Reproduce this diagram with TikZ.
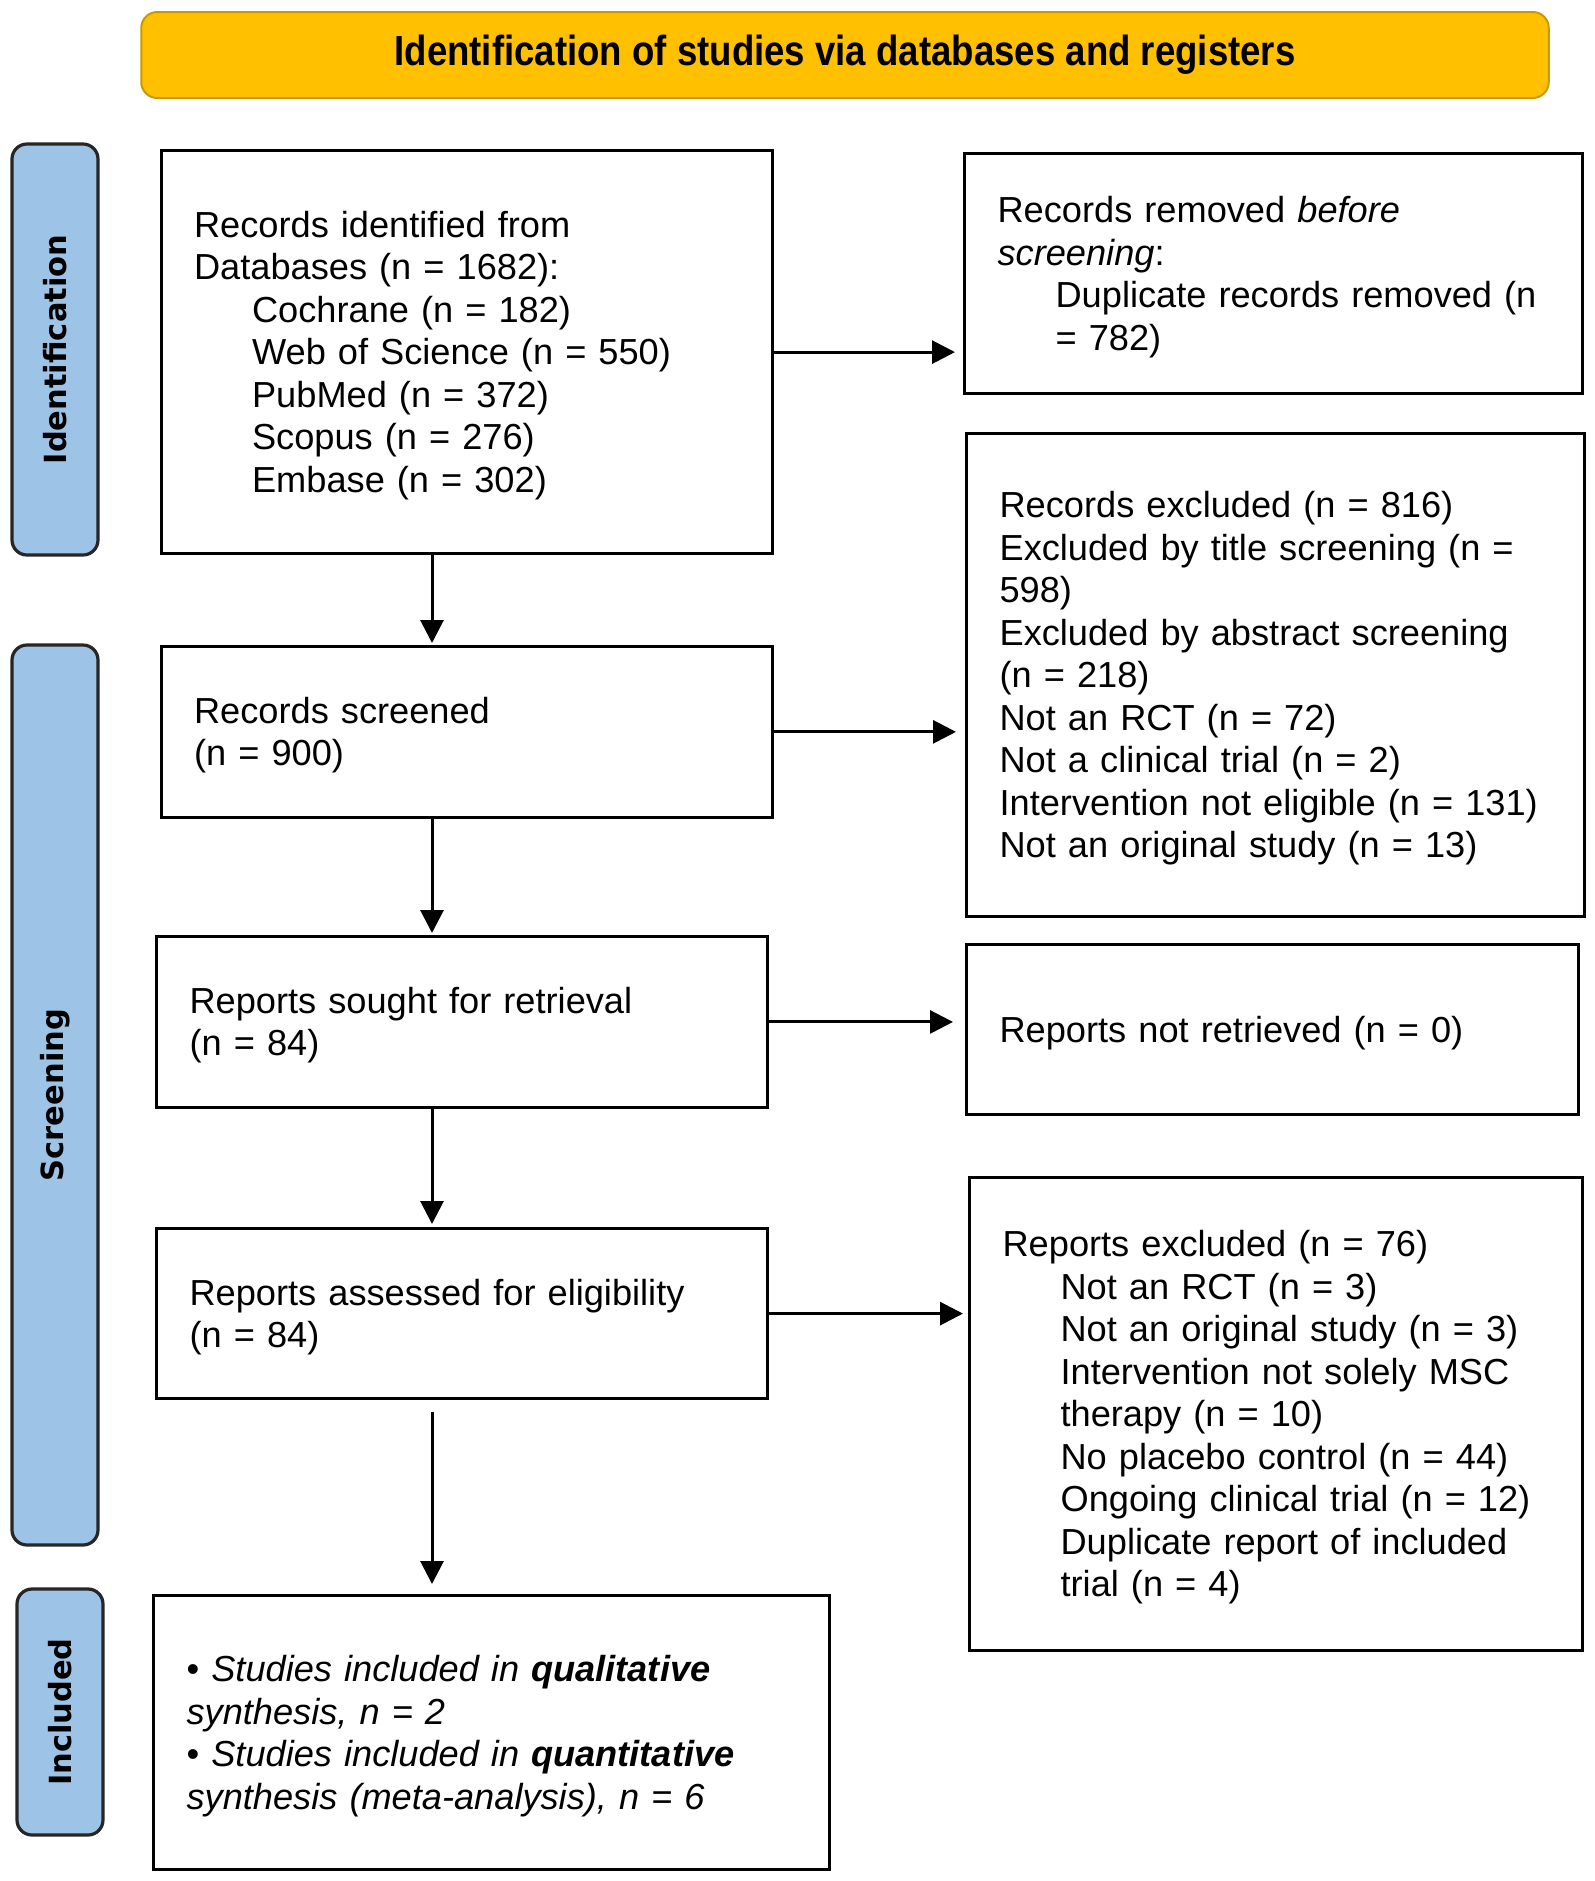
\documentclass[tikz,border=0pt]{standalone}
\usepackage{fontspec}
\setmainfont{Liberation Sans}
\newfontfamily\labelfont{DejaVu Sans}
\usetikzlibrary{arrows.meta}
\definecolor{gold}{HTML}{FFC000}
\definecolor{goldborder}{HTML}{C99A00}
\definecolor{sideblue}{HTML}{9DC3E6}
\begin{document}
\begin{tikzpicture}[x=0.5pt,y=-0.5pt,
  box/.style={draw=black, line width=1.6pt, fill=white, align=left, inner xsep=16.5pt, inner ysep=0pt, anchor=north west, font=\fontsize{18.1pt}{21.25pt}\selectfont, execute at begin node={\rule{0pt}{16.5pt}}},
  side/.style={draw=black!85, line width=1.6pt, fill=sideblue, rounded corners=7.5pt, minimum height=43pt, inner sep=0pt, rotate=90, font=\labelfont\bfseries\fontsize{15.25pt}{18pt}\selectfont},
  banner/.style={draw=goldborder, line width=1pt, fill=gold, rounded corners=8pt, minimum width=703.75pt, minimum height=43pt, font=\bfseries\fontsize{18.3pt}{21pt}\selectfont},
  arr/.style={line width=1.5pt, -{Triangle[length=11.5pt,width=11.5pt]}}]
\useasboundingbox (0,0) rectangle (1595,1881);

% banner and phase labels
\node[banner] (title) at (845,55) {\raisebox{-2pt}{\scalebox{1}[1.15]{Identification of studies via databases and registers}}};
\node[side, minimum width=205.5pt] (lid) at (55,349.5) {Identification};
\node[side, minimum width=450pt] (lsc) at (55,1095) {Screening};
\node[side, minimum width=123pt] (lin) at (60,1712) {Included};

% boxes
\node[box, minimum width=305.75pt, text width=272.75pt, minimum height=201.5pt] (b1) at (159.5,149)
{Records identified from\\ Databases (n = 1682):\\
\hspace*{29pt}Cochrane (n = 182)\\
\hspace*{29pt}Web of Science (n = 550)\\
\hspace*{29pt}PubMed (n = 372)\\
\hspace*{29pt}Scopus (n = 276)\\
\hspace*{29pt}Embase (n = 302)};

\node[box, minimum width=308.75pt, text width=275.75pt, minimum height=120pt] (b2) at (963,152)
{Records removed \textit{before}\\ \textit{screening}:\\
\hspace*{29pt}Duplicate records removed (n\\
\hspace*{29pt}= 782)};

\node[box, minimum width=305.75pt, text width=272.75pt, minimum height=85.25pt] (b3) at (159.5,645)
{Records screened\\ (n = 900)};

\node[box, minimum width=309pt, text width=276pt, minimum height=241.5pt] (b4) at (965,432)
{Records excluded (n = 816)\\
Excluded by title screening (n =\\
598)\\
Excluded by abstract screening\\
(n = 218)\\
Not an RCT (n = 72)\\
Not a clinical trial (n = 2)\\
Intervention not eligible (n = 131)\\
Not an original study (n = 13)};

\node[box, minimum width=305.5pt, text width=272.5pt, minimum height=85.35pt] (b5) at (155,935)
{Reports sought for retrieval\\ (n = 84)};

\node[box, minimum width=306pt, text width=273pt, minimum height=85.2pt] (b6) at (965,942.6)
{Reports not retrieved (n = 0)};

\node[box, minimum width=305.5pt, text width=272.5pt, minimum height=85pt] (b7) at (155,1227)
{Reports assessed for eligibility\\ (n = 84)};

\node[box, minimum width=306.25pt, text width=273.25pt, minimum height=236.5pt] (b8) at (968,1176)
{Reports excluded (n = 76)\\
\hspace*{29pt}Not an RCT (n = 3)\\
\hspace*{29pt}Not an original study (n = 3)\\
\hspace*{29pt}Intervention not solely MSC\\
\hspace*{29pt}therapy (n = 10)\\
\hspace*{29pt}No placebo control (n = 44)\\
\hspace*{29pt}Ongoing clinical trial (n = 12)\\
\hspace*{29pt}Duplicate report of included\\
\hspace*{29pt}trial (n = 4)};

\node[box, minimum width=337.75pt, text width=304.75pt, minimum height=137pt] (b9) at (152,1594)
{\textbullet\ \textit{Studies included in \textbf{qualitative}}\\
\textit{synthesis, n = 2}\\
\textbullet\ \textit{Studies included in \textbf{quantitative}}\\
\textit{synthesis (meta-analysis), n = 6}};

% connectors
\coordinate (ax) at (432,0);
\draw[arr, shorten >=1pt] (b1.south -| ax) -- (b3.north -| ax);
\draw[arr, shorten >=1pt] (b3.south -| ax) -- (b5.north -| ax);
\draw[arr, shorten >=1.5pt] (b5.south -| ax) -- (b7.north -| ax);
\draw[arr, shorten <=6pt, shorten >=5pt] (b7.south -| ax) -- (b9.north -| ax);

\draw[arr, shorten >=4pt] (b1.east) -- (b1.east -| b2.west);
\draw[arr, shorten >=4.5pt] (b3.east) -- (b3.east -| b4.west);
\draw[arr, shorten >=6pt] (b5.east) -- (b5.east -| b6.west);
\draw[arr, shorten >=2.5pt] (b7.east) -- (b7.east -| b8.west);
\end{tikzpicture}
\end{document}
